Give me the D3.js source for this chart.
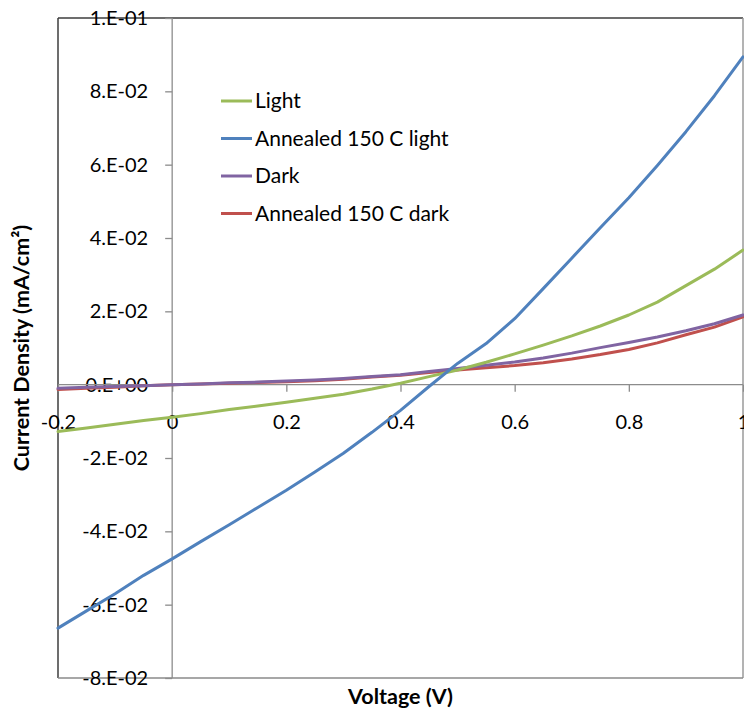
<!DOCTYPE html>
<html>
<head>
<meta charset="utf-8">
<script src="https://cdn.jsdelivr.net/npm/d3@7"></script>
<style>
  html, body { margin: 0; padding: 0; background: #fff; }
  svg { display: block; font-family: Lato, "Open Sans", sans-serif; }
</style>
</head>
<body>
<svg id="chart" width="744" height="709"></svg>
<script>
// Applied voltage (V)
const voltage = [-0.2, -0.15, -0.1, -0.05, 0, 0.05, 0.1, 0.15, 0.2, 0.25, 0.3, 0.35, 0.4,
                 0.45, 0.5, 0.55, 0.6, 0.65, 0.7, 0.75, 0.8, 0.85, 0.9, 0.95, 1.0];

// Current density (mA/cm2) per measurement
const lightJ = [-0.0128, -0.0118, -0.0108, -0.0098, -0.0089, -0.0079, -0.0068, -0.0058, -0.0048,
                -0.0037, -0.0026, -0.0012, 0.0004, 0.0022, 0.0040, 0.0061, 0.0084, 0.0108,
                0.0133, 0.0160, 0.0190, 0.0225, 0.0270, 0.0315, 0.0367];
const annealedLightJ = [-0.0664, -0.0617, -0.0570, -0.0520, -0.0475, -0.0428, -0.0382, -0.0335,
                        -0.0288, -0.0238, -0.0187, -0.0130, -0.0070, -0.0005, 0.0058, 0.0112,
                        0.0180, 0.0262, 0.0345, 0.0428, 0.0510, 0.0598, 0.0690, 0.0788, 0.0894];
const darkJ = [-0.0010, -0.0007, -0.0005, -0.0003, 0.0000, 0.0002, 0.0005, 0.0007, 0.0010,
               0.0013, 0.0017, 0.0022, 0.0027, 0.0036, 0.0044, 0.0053, 0.0062, 0.0073,
               0.0086, 0.0101, 0.0115, 0.0130, 0.0147, 0.0166, 0.0190];
const annealedDarkJ = [-0.0013, -0.0010, -0.0007, -0.0003, 0.0000, 0.0002, 0.0004, 0.0006, 0.0008,
                       0.0011, 0.0015, 0.0021, 0.0026, 0.0033, 0.0040, 0.0046, 0.0052, 0.0060,
                       0.0070, 0.0082, 0.0096, 0.0114, 0.0136, 0.0157, 0.0185];

const seriesNames = ["Light", "Annealed 150 C light", "Dark", "Annealed 150 C dark"];
const seriesColors = ["#9BBB59", "#4F81BD", "#8064A2", "#C0504D"];
const seriesValues = [lightJ, annealedLightJ, darkJ, annealedDarkJ];

// Axis ticks and their labels
const xTicks = [-0.2, 0, 0.2, 0.4, 0.6, 0.8, 1];
const xTickLabels = ["-0.2", "0", "0.2", "0.4", "0.6", "0.8", "1"];
const yTicks = [-0.08, -0.06, -0.04, -0.02, 0, 0.02, 0.04, 0.06, 0.08, 0.1];
const yTickLabels = ["-8.E-02", "-6.E-02", "-4.E-02", "-2.E-02", "0.E+00",
                     "2.E-02", "4.E-02", "6.E-02", "8.E-02", "1.E-01"];

const svg = d3.select("#chart");
const plot = { left: 58, top: 18, right: 743, bottom: 678 };

const x = d3.scaleLinear().domain([-0.2, 1]).range([plot.left, plot.right]);
const y = d3.scaleLinear().domain([-0.08, 0.1]).range([plot.bottom, plot.top]);

const fontSize = 20;

// Plot area frame
svg.append("line").attr("x1", plot.left).attr("x2", plot.right)
  .attr("y1", plot.top).attr("y2", plot.top).attr("stroke", "#3c3c3c").attr("stroke-width", 1.5);
svg.append("line").attr("x1", plot.left).attr("x2", plot.left)
  .attr("y1", plot.top).attr("y2", plot.bottom).attr("stroke", "#3c3c3c").attr("stroke-width", 1.5);
svg.append("line").attr("x1", plot.right).attr("x2", plot.right)
  .attr("y1", plot.top).attr("y2", plot.bottom).attr("stroke", "#9a9a9a").attr("stroke-width", 1.5);
svg.append("line").attr("x1", plot.left).attr("x2", plot.right)
  .attr("y1", plot.bottom).attr("y2", plot.bottom).attr("stroke", "#8a8a8a").attr("stroke-width", 1.5);

// Vertical axis crossing at V = 0
const yAxis = d3.axisLeft(y)
  .tickValues(yTicks)
  .tickSize(7)
  .tickPadding(17)
  .tickFormat((d, i) => yTickLabels[i]);
const gy = svg.append("g").attr("transform", `translate(${x(0)},0)`).call(yAxis);

// Horizontal axis crossing at J = 0
const xAxis = d3.axisBottom(x)
  .tickValues(xTicks)
  .tickSize(7)
  .tickPadding(23)
  .tickFormat((d, i) => xTickLabels[i]);
const gx = svg.append("g").attr("transform", `translate(0,${y(0)})`).call(xAxis);

[gx, gy].forEach(g => {
  g.select(".domain").attr("stroke", "#8c8c8c").attr("stroke-width", 1.3);
  g.selectAll(".tick line").attr("stroke", "#8c8c8c").attr("stroke-width", 1.3);
  g.selectAll(".tick text")
    .attr("fill", "#000")
    .style("font-family", "Lato, 'Open Sans', sans-serif")
    .style("font-size", fontSize + "px");
});
gy.select(".domain").attr("d", `M0,${plot.top}V${plot.bottom}`);
gx.select(".domain").attr("d", `M${plot.left},0H${plot.right}`);

// Data lines
const line = d3.line()
  .x((d, i) => x(voltage[i]))
  .y(d => y(d));

const drawOrder = [3, 2, 0, 1];
drawOrder.forEach(k => {
  svg.append("path")
    .datum(seriesValues[k])
    .attr("fill", "none")
    .attr("stroke", seriesColors[k])
    .attr("stroke-width", 3)
    .attr("stroke-linejoin", "round")
    .attr("stroke-linecap", "round")
    .attr("d", line);
});

// Legend
const legend = svg.append("g").attr("transform", "translate(221,101)");
seriesNames.forEach((name, i) => {
  const row = legend.append("g").attr("transform", `translate(0,${i * 37.5})`);
  row.append("line").attr("x1", 0).attr("x2", 31).attr("y1", 0).attr("y2", 0)
    .attr("stroke", seriesColors[i]).attr("stroke-width", 3);
  row.append("text").attr("x", 34).attr("y", 0).attr("dy", "0.35em")
    .style("font-size", "21px").attr("fill", "#000").text(name);
});

// Axis titles
svg.append("text")
  .attr("x", (plot.left + plot.right) / 2).attr("y", 696)
  .attr("text-anchor", "middle").attr("dy", "0.35em")
  .style("font-size", "21.5px").style("font-weight", "bold")
  .text("Voltage (V)");

svg.append("text")
  .attr("transform", `translate(21,${(plot.top + plot.bottom) / 2}) rotate(-90)`)
  .attr("text-anchor", "middle").attr("dy", "0.35em")
  .style("font-size", "21.5px").style("font-weight", "bold")
  .text("Current Density (mA/cm²)");
</script>
</body>
</html>
